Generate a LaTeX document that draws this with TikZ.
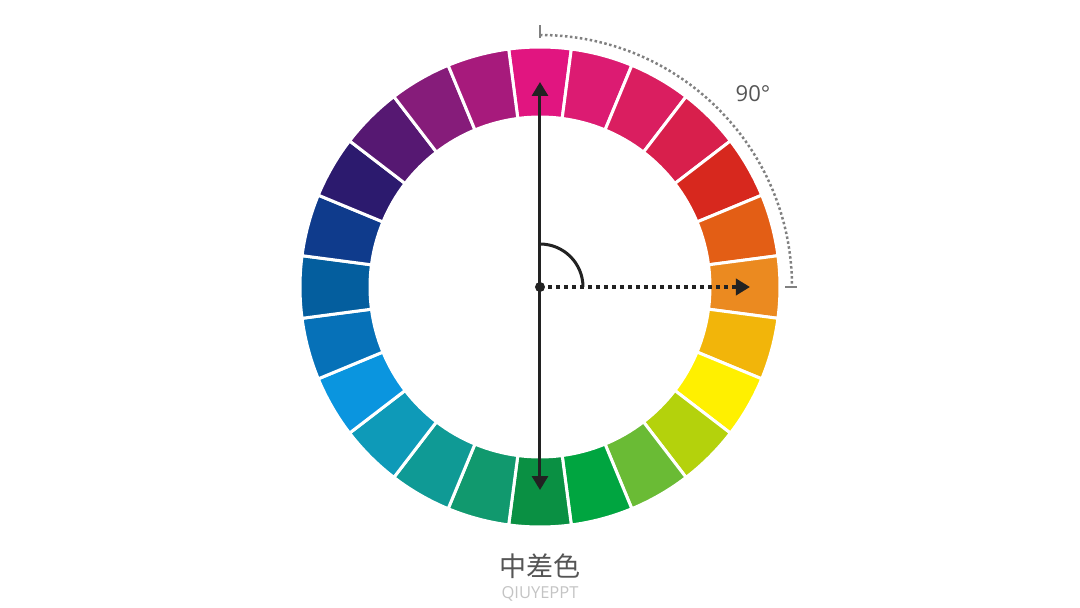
\documentclass[tikz,border=0pt]{standalone}
\usepackage{fontspec}
\setmainfont{Open Sans}
\newfontfamily\cjk{Noto Sans CJK SC}
\usetikzlibrary{arrows.meta}

\definecolor{inkdark}{HTML}{222222}
\definecolor{greymark}{HTML}{808080}
\definecolor{greytext}{HTML}{555555}
\definecolor{greylight}{HTML}{C4C4C4}

\tikzset{
    segment/.style={draw=white, line width=3pt},
    axisline/.style={inkdark, line width=3pt, -{Triangle[width=16pt,length=14pt]}},
    dotline/.style={inkdark, line width=4pt, dash pattern=on 4pt off 4pt,
        -{Triangle[width=16pt,length=14pt]}},
    anglemark/.style={inkdark, line width=3pt},
    spanarc/.style={greymark, line width=2.5pt, dash pattern=on 2.5pt off 2.5pt},
    spantick/.style={greymark, line width=1.8pt}
}

\begin{document}
\begin{tikzpicture}[x=1pt, y=1pt]
    \useasboundingbox (-540,-321) rectangle (540,287);

    % colour ring, 24 segments of 15 degrees
    \foreach \ang/\col in {
            90/E11580, 75/DC1B72, 60/DA1E60, 45/D81F4C, 30/D7281E, 15/E35E15,
            0/EB8A20, -15/F2B50A, -30/FFF000, -45/B4D20C, -60/6ABB35, -75/00A540,
            -90/0A9043, -105/11996E, -120/0F9A95, -135/0E9AB8, -150/0A95DF, -165/0671B8,
            -180/045E9E, -195/0F3B8C, -210/2C1A6E, -225/561872, -240/861C7A, -255/A71A7C} {
        \definecolor{segcol}{HTML}{\col}
        \fill[segment, fill=segcol] (\ang-7.5:170) arc (\ang-7.5:\ang+7.5:170)
            -- (\ang+7.5:240) arc (\ang+7.5:\ang-7.5:240) -- cycle;
    }

    \coordinate (centre) at (0,0);
    \coordinate (top) at (0,205);
    \coordinate (bottom) at (0,-203);
    \coordinate (right) at (210,0);

    % axes
    \draw[axisline] (centre) -- (top);
    \draw[axisline] (centre) -- (bottom);
    \draw[dotline] (centre) -- (right);
    \draw[anglemark] (0,43) arc (90:0:43);
    \fill[inkdark] (centre) circle (5);

    % the 90 degree span
    \coordinate (spantop) at (90:252);
    \coordinate (spanright) at (0:252);
    \draw[spanarc] (spantop) arc (90:0:252);
    \draw[spantick] ([yshift=-3]spantop) -- ([yshift=10]spantop);
    \draw[spantick] ([xshift=-7]spanright) -- ([xshift=5]spanright);
    \node[greytext, font=\fontsize{22}{26}\selectfont] (spanlabel) at (213,193) {90°};

    % caption
    \node[greytext, font=\cjk\fontsize{27}{32}\selectfont] (title) at (0,-279) {中差色};
    \node[greylight, font=\fontsize{16.5}{20}\selectfont] (brand) at (0,-307) {QIUYEPPT};
\end{tikzpicture}
\end{document}
